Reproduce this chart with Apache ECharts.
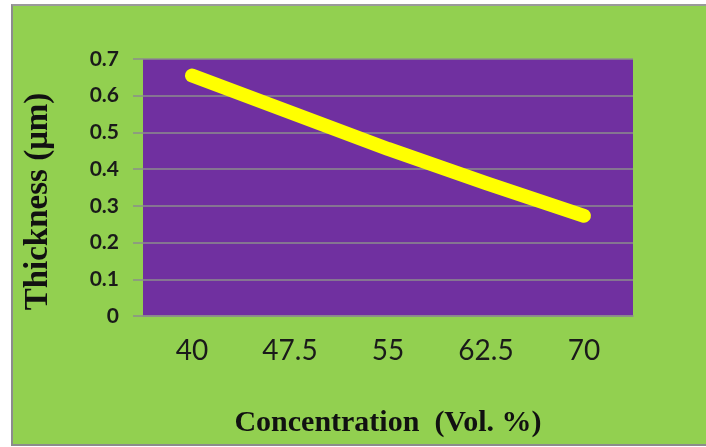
<!DOCTYPE html>
<html>
<head>
<meta charset="utf-8">
<script src="https://cdn.jsdelivr.net/npm/echarts@6/dist/echarts.min.js"></script>
<style>
  html, body { margin: 0; padding: 0; background: #ffffff; width: 706px; height: 447px; overflow: hidden; }
  #wrap { position: absolute; left: 11px; top: 4px; border-left: 2px solid #8c8c8c; border-top: 2px solid #9a9a9a; border-bottom: 2px solid #8c8c8c; }
  #chart { width: 693px; height: 438px; }
</style>
</head>
<body>
<div id="wrap"><div id="chart"></div></div>
<script>
// Data
const categories = ['40', '47.5', '55', '62.5', '70'];
const thickness = [0.655, 0.555, 0.455, 0.362, 0.273];
const yTickLabels = ['0', '0.1', '0.2', '0.3', '0.4', '0.5', '0.6', '0.7'];
const xTitle = 'Concentration  (Vol. %)';
const yTitle = 'Thickness (μm)';

const chart = echarts.init(document.getElementById('chart'), null, { renderer: 'canvas' });
const gridGray = '#8c8c8c';

chart.setOption({
  backgroundColor: '#92D050',
  animation: false,
  grid: {
    left: 130, top: 53, right: 73, bottom: 128,
    show: true, backgroundColor: '#7030A0', borderWidth: 0
  },
  xAxis: {
    type: 'category',
    data: categories,
    boundaryGap: true,
    axisLine: { show: true, lineStyle: { color: gridGray, width: 1.5 } },
    axisTick: { show: false },
    axisLabel: { color: '#1a1a1a', fontFamily: 'Lato', fontSize: 28, margin: 21 },
    name: xTitle,
    nameLocation: 'middle',
    nameGap: 92,
    nameTextStyle: { fontFamily: 'Liberation Serif', fontWeight: 'bold', fontSize: 30, color: '#111111' }
  },
  yAxis: {
    type: 'value',
    min: 0, max: 0.7, interval: 0.1,
    axisLine: { show: false },
    axisTick: { show: true, length: 10, lineStyle: { color: gridGray, width: 1.5 } },
    splitLine: { show: true, lineStyle: { color: gridGray, width: 1.5 } },
    axisLabel: {
      color: '#1a1a1a', fontFamily: 'Lato', fontWeight: 'bold', fontSize: 21, margin: 24,
      formatter: function (v) { return yTickLabels[Math.round(v * 10)]; }
    },
    name: yTitle,
    nameLocation: 'middle',
    nameGap: 88,
    nameRotate: 90,
    nameTextStyle: { fontFamily: 'Liberation Serif', fontWeight: 'bold', fontSize: 33, color: '#111111', padding: [0, 28, 0, 0] }
  },
  series: [{
    type: 'line',
    data: thickness,
    showSymbol: false,
    symbol: 'none',
    lineStyle: { color: '#FFFF00', width: 14, cap: 'round', join: 'round' }
  }]
});
</script>
</body>
</html>
